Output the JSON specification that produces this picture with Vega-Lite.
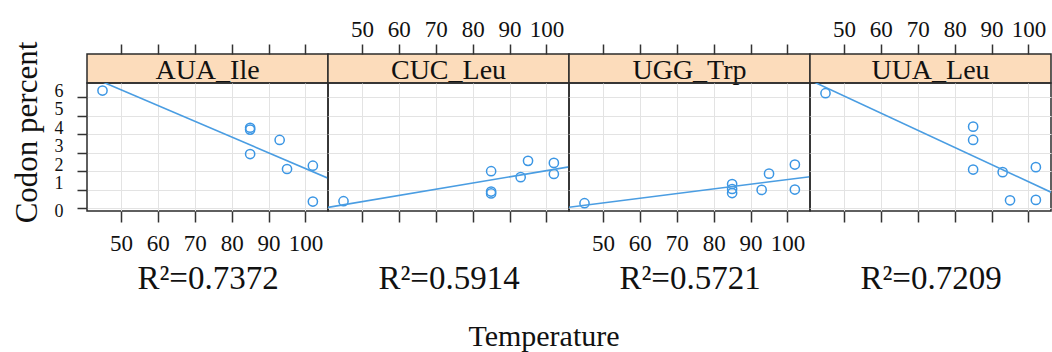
{
  "$schema": "https://vega.github.io/schema/vega-lite/v6.json",
  "background": "white",
  "padding": {"left": 10, "top": 17, "right": 0, "bottom": 0},
  "datasets": {
    "pts": [
      {"codon": "AUA_Ile", "temp": 45, "pct": 6.36},
      {"codon": "AUA_Ile", "temp": 85, "pct": 4.35},
      {"codon": "AUA_Ile", "temp": 85, "pct": 4.25},
      {"codon": "AUA_Ile", "temp": 85, "pct": 2.93},
      {"codon": "AUA_Ile", "temp": 93, "pct": 3.69},
      {"codon": "AUA_Ile", "temp": 95, "pct": 2.12},
      {"codon": "AUA_Ile", "temp": 102, "pct": 2.30},
      {"codon": "AUA_Ile", "temp": 102, "pct": 0.36},
      {"codon": "CUC_Leu", "temp": 45, "pct": 0.38},
      {"codon": "CUC_Leu", "temp": 85, "pct": 2.0},
      {"codon": "CUC_Leu", "temp": 85, "pct": 0.9},
      {"codon": "CUC_Leu", "temp": 85, "pct": 0.8},
      {"codon": "CUC_Leu", "temp": 93, "pct": 1.68},
      {"codon": "CUC_Leu", "temp": 95, "pct": 2.56},
      {"codon": "CUC_Leu", "temp": 102, "pct": 2.45},
      {"codon": "CUC_Leu", "temp": 102, "pct": 1.85},
      {"codon": "UGG_Trp", "temp": 45, "pct": 0.27},
      {"codon": "UGG_Trp", "temp": 85, "pct": 1.31},
      {"codon": "UGG_Trp", "temp": 85, "pct": 1.04},
      {"codon": "UGG_Trp", "temp": 85, "pct": 0.82},
      {"codon": "UGG_Trp", "temp": 93, "pct": 0.99},
      {"codon": "UGG_Trp", "temp": 95, "pct": 1.87},
      {"codon": "UGG_Trp", "temp": 102, "pct": 2.36},
      {"codon": "UGG_Trp", "temp": 102, "pct": 1.01},
      {"codon": "UUA_Leu", "temp": 45, "pct": 6.22},
      {"codon": "UUA_Leu", "temp": 85, "pct": 4.41},
      {"codon": "UUA_Leu", "temp": 85, "pct": 3.69},
      {"codon": "UUA_Leu", "temp": 85, "pct": 2.09},
      {"codon": "UUA_Leu", "temp": 93, "pct": 1.95},
      {"codon": "UUA_Leu", "temp": 95, "pct": 0.43},
      {"codon": "UUA_Leu", "temp": 102, "pct": 2.22},
      {"codon": "UUA_Leu", "temp": 102, "pct": 0.45}
    ],
    "strips": [
      {"codon": "AUA_Ile"},
      {"codon": "CUC_Leu"},
      {"codon": "UGG_Trp"},
      {"codon": "UUA_Leu"}
    ]
  },
  "title": {
    "text": "Temperature",
    "orient": "bottom",
    "anchor": "middle",
    "font": "Liberation Serif",
    "fontSize": 30,
    "fontWeight": "normal",
    "color": "#111111",
    "offset": 26,
    "dx": 13
  },
  "columns": 4,
  "spacing": 0,
  "bounds": "flush",
  "concat": [
    {
      "width": 241, "height": 29,
      "view": {"fill": "#fcdcbb", "stroke": "#2b2b2b", "strokeWidth": 1.5},
      "layer": [
        {"data": {"name": "pts"}, "transform": [{"filter": "datum.codon == 'AUA_Ile'"}],
         "mark": {"type": "point", "opacity": 0},
         "encoding": {"x": {"field": "temp", "type": "quantitative", "scale": {"domain": [40.8, 106.1], "nice": false, "zero": false},
           "axis": {"orient": "top", "values": [50, 60, 70, 80, 90, 100], "tickSize": 10, "labelPadding": 3, "labelFont": "Liberation Serif", "labelFontSize": 23, "labelOpacity": 0, "grid": false, "title": null}}}},
        {"data": {"name": "strips"}, "transform": [{"filter": "datum.codon == 'AUA_Ile'"}],
         "mark": {"type": "text", "font": "Liberation Serif", "fontSize": 28, "baseline": "middle", "dy": 2, "color": "#111111"},
         "encoding": {"text": {"field": "codon", "type": "nominal"}}}
      ]
    },
    {
      "width": 241, "height": 29,
      "view": {"fill": "#fcdcbb", "stroke": "#2b2b2b", "strokeWidth": 1.5},
      "layer": [
        {"data": {"name": "pts"}, "transform": [{"filter": "datum.codon == 'CUC_Leu'"}],
         "mark": {"type": "point", "opacity": 0},
         "encoding": {"x": {"field": "temp", "type": "quantitative", "scale": {"domain": [40.8, 106.1], "nice": false, "zero": false},
           "axis": {"orient": "top", "values": [50, 60, 70, 80, 90, 100], "tickSize": 10, "labelPadding": 3, "labelFont": "Liberation Serif", "labelFontSize": 23, "labelOpacity": 1, "grid": false, "title": null}}}},
        {"data": {"name": "strips"}, "transform": [{"filter": "datum.codon == 'CUC_Leu'"}],
         "mark": {"type": "text", "font": "Liberation Serif", "fontSize": 28, "baseline": "middle", "dy": 2, "color": "#111111"},
         "encoding": {"text": {"field": "codon", "type": "nominal"}}}
      ]
    },
    {
      "width": 241, "height": 29,
      "view": {"fill": "#fcdcbb", "stroke": "#2b2b2b", "strokeWidth": 1.5},
      "layer": [
        {"data": {"name": "pts"}, "transform": [{"filter": "datum.codon == 'UGG_Trp'"}],
         "mark": {"type": "point", "opacity": 0},
         "encoding": {"x": {"field": "temp", "type": "quantitative", "scale": {"domain": [40.8, 106.1], "nice": false, "zero": false},
           "axis": {"orient": "top", "values": [50, 60, 70, 80, 90, 100], "tickSize": 10, "labelPadding": 3, "labelFont": "Liberation Serif", "labelFontSize": 23, "labelOpacity": 0, "grid": false, "title": null}}}},
        {"data": {"name": "strips"}, "transform": [{"filter": "datum.codon == 'UGG_Trp'"}],
         "mark": {"type": "text", "font": "Liberation Serif", "fontSize": 28, "baseline": "middle", "dy": 2, "color": "#111111"},
         "encoding": {"text": {"field": "codon", "type": "nominal"}}}
      ]
    },
    {
      "width": 241, "height": 29,
      "view": {"fill": "#fcdcbb", "stroke": "#2b2b2b", "strokeWidth": 1.5},
      "layer": [
        {"data": {"name": "pts"}, "transform": [{"filter": "datum.codon == 'UUA_Leu'"}],
         "mark": {"type": "point", "opacity": 0},
         "encoding": {"x": {"field": "temp", "type": "quantitative", "scale": {"domain": [40.8, 106.1], "nice": false, "zero": false},
           "axis": {"orient": "top", "values": [50, 60, 70, 80, 90, 100], "tickSize": 10, "labelPadding": 3, "labelFont": "Liberation Serif", "labelFontSize": 23, "labelOpacity": 1, "grid": false, "title": null}}}},
        {"data": {"name": "strips"}, "transform": [{"filter": "datum.codon == 'UUA_Leu'"}],
         "mark": {"type": "text", "font": "Liberation Serif", "fontSize": 28, "baseline": "middle", "dy": 2, "color": "#111111"},
         "encoding": {"text": {"field": "codon", "type": "nominal"}}}
      ]
    },
    {
      "width": 241, "height": 128,
      "view": {"stroke": "#2b2b2b", "strokeWidth": 1.5},
      "data": {"name": "pts"},
      "transform": [{"filter": "datum.codon == 'AUA_Ile'"}],
      "encoding": {
        "x": {"field": "temp", "type": "quantitative", "scale": {"domain": [40.8, 106.1], "nice": false, "zero": false},
          "axis": {"orient": "bottom", "values": [50, 60, 70, 80, 90, 100], "tickSize": 11, "labelPadding": 10, "labelFont": "Liberation Serif", "labelFontSize": 23, "labelOpacity": 1, "grid": true, "title": "R²=0.7372", "titleFont": "Liberation Serif", "titleFontSize": 33, "titlePadding": 7}},
        "y": {"field": "pct", "type": "quantitative", "scale": {"domain": [-0.15, 6.77], "nice": false, "zero": false},
          "axis": {"orient": "left", "values": [0, 1, 2, 3, 4, 5, 6], "tickSize": 10, "labelPadding": 14, "labelFont": "Liberation Serif", "labelFontSize": 18, "labelOffset": {"condition": {"test": "datum.value == 0", "value": 3}, "value": -6}, "grid": true, "title": "Codon percent", "titleFont": "Liberation Serif", "titleFontSize": 31, "titlePadding": 11, "titleY": 49}}
      },
      "layer": [
        {"mark": {"type": "point", "filled": false, "size": 85, "strokeWidth": 1.5, "color": "#3b96e4", "opacity": 1}},
        {"transform": [{"regression": "pct", "on": "temp", "extent": [40.8, 106.1]}],
         "mark": {"type": "line", "color": "#4a9de2", "strokeWidth": 1.6, "clip": true}}
      ]
    },
    {
      "width": 241, "height": 128,
      "view": {"stroke": "#2b2b2b", "strokeWidth": 1.5},
      "data": {"name": "pts"},
      "transform": [{"filter": "datum.codon == 'CUC_Leu'"}],
      "encoding": {
        "x": {"field": "temp", "type": "quantitative", "scale": {"domain": [40.8, 106.1], "nice": false, "zero": false},
          "axis": {"orient": "bottom", "values": [50, 60, 70, 80, 90, 100], "tickSize": 11, "labelPadding": 10, "labelFont": "Liberation Serif", "labelFontSize": 23, "labelOpacity": 0, "grid": true, "title": "R²=0.5914", "titleFont": "Liberation Serif", "titleFontSize": 33, "titlePadding": 7}},
        "y": {"field": "pct", "type": "quantitative", "scale": {"domain": [-0.15, 6.77], "nice": false, "zero": false},
          "axis": {"values": [0, 1, 2, 3, 4, 5, 6], "grid": true, "labels": false, "ticks": false, "title": null}}
      },
      "layer": [
        {"mark": {"type": "point", "filled": false, "size": 85, "strokeWidth": 1.5, "color": "#3b96e4", "opacity": 1}},
        {"transform": [{"regression": "pct", "on": "temp", "extent": [40.8, 106.1]}],
         "mark": {"type": "line", "color": "#4a9de2", "strokeWidth": 1.6, "clip": true}}
      ]
    },
    {
      "width": 241, "height": 128,
      "view": {"stroke": "#2b2b2b", "strokeWidth": 1.5},
      "data": {"name": "pts"},
      "transform": [{"filter": "datum.codon == 'UGG_Trp'"}],
      "encoding": {
        "x": {"field": "temp", "type": "quantitative", "scale": {"domain": [40.8, 106.1], "nice": false, "zero": false},
          "axis": {"orient": "bottom", "values": [50, 60, 70, 80, 90, 100], "tickSize": 11, "labelPadding": 10, "labelFont": "Liberation Serif", "labelFontSize": 23, "labelOpacity": 1, "grid": true, "title": "R²=0.5721", "titleFont": "Liberation Serif", "titleFontSize": 33, "titlePadding": 7}},
        "y": {"field": "pct", "type": "quantitative", "scale": {"domain": [-0.15, 6.77], "nice": false, "zero": false},
          "axis": {"values": [0, 1, 2, 3, 4, 5, 6], "grid": true, "labels": false, "ticks": false, "title": null}}
      },
      "layer": [
        {"mark": {"type": "point", "filled": false, "size": 85, "strokeWidth": 1.5, "color": "#3b96e4", "opacity": 1}},
        {"transform": [{"regression": "pct", "on": "temp", "extent": [40.8, 106.1]}],
         "mark": {"type": "line", "color": "#4a9de2", "strokeWidth": 1.6, "clip": true}}
      ]
    },
    {
      "width": 241, "height": 128,
      "view": {"stroke": "#2b2b2b", "strokeWidth": 1.5},
      "data": {"name": "pts"},
      "transform": [{"filter": "datum.codon == 'UUA_Leu'"}],
      "encoding": {
        "x": {"field": "temp", "type": "quantitative", "scale": {"domain": [40.8, 106.1], "nice": false, "zero": false},
          "axis": {"orient": "bottom", "values": [50, 60, 70, 80, 90, 100], "tickSize": 11, "labelPadding": 10, "labelFont": "Liberation Serif", "labelFontSize": 23, "labelOpacity": 0, "grid": true, "title": "R²=0.7209", "titleFont": "Liberation Serif", "titleFontSize": 33, "titlePadding": 7}},
        "y": {"field": "pct", "type": "quantitative", "scale": {"domain": [-0.15, 6.77], "nice": false, "zero": false},
          "axis": {"values": [0, 1, 2, 3, 4, 5, 6], "grid": true, "labels": false, "ticks": false, "title": null}}
      },
      "layer": [
        {"mark": {"type": "point", "filled": false, "size": 85, "strokeWidth": 1.5, "color": "#3b96e4", "opacity": 1}},
        {"transform": [{"regression": "pct", "on": "temp", "extent": [40.8, 106.1]}],
         "mark": {"type": "line", "color": "#4a9de2", "strokeWidth": 1.6, "clip": true}}
      ]
    }
  ],
  "config": {
    "view": {"stroke": null},
    "font": "Liberation Serif",
    "axis": {
      "domain": false,
      "labelFont": "Liberation Serif",
      "titleFont": "Liberation Serif",
      "labelColor": "#111111",
      "titleColor": "#111111",
      "titleFontWeight": "normal",
      "tickColor": "#333333",
      "tickWidth": 1.5,
      "gridColor": "#e3e3e3",
      "gridWidth": 1,
      "labelOverlap": false,
      "labelFlush": false
    }
  }
}
